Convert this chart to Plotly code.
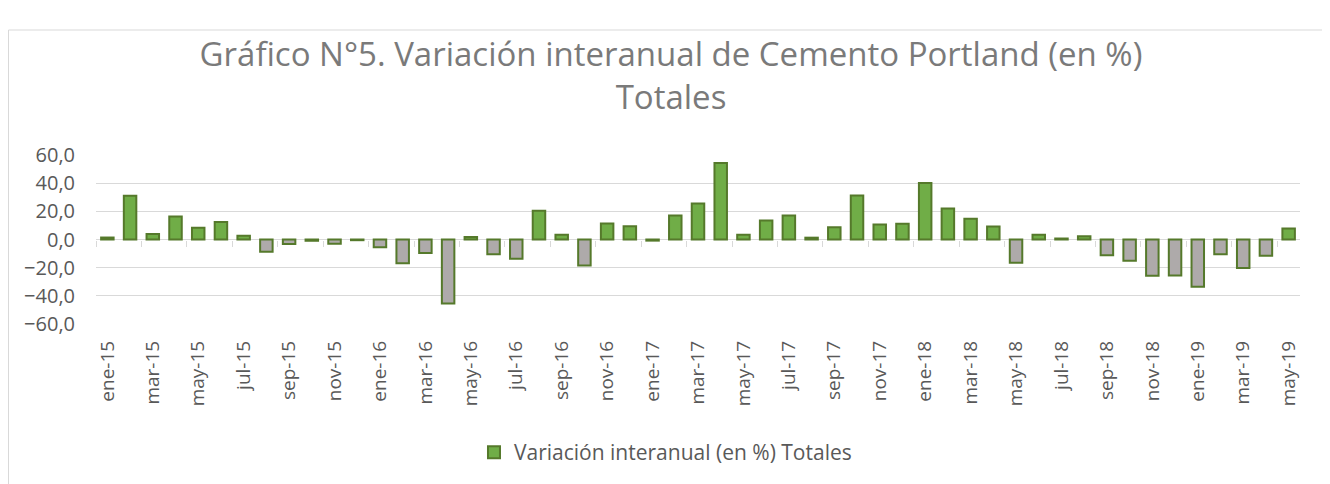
import plotly.graph_objects as go

meses = ["ene", "feb", "mar", "abr", "may", "jun", "jul", "ago", "sep", "oct", "nov", "dic"]
categorias = [f"{m}-{a}" for a in ["15", "16", "17", "18"] for m in meses] + \
             [f"{m}-19" for m in meses[:5]]

valores = [1.4, 31.0, 3.9, 16.4, 8.3, 12.4, 2.7, -8.7, -3.2, -0.9, -3.0, -0.5,
           -5.5, -16.9, -9.6, -45.5, 1.7, -10.5, -13.6, 20.4, 3.3, -18.4, 11.3, 9.4,
           -0.8, 17.0, 25.6, 54.4, 3.3, 13.5, 17.0, 1.3, 8.7, 31.3, 10.6, 11.1,
           40.1, 22.0, 14.7, 9.2, -16.5, 3.3, 0.7, 2.3, -11.2, -15.0, -25.7, -25.5,
           -33.5, -10.5, -20.3, -11.5, 7.8]

serie = "Variación interanual (en %) Totales"
titulo = "Gráfico N°5. Variación interanual de Cemento Portland (en %)<br>Totales"

VERDE = "#70AD47"
GRIS = "#AEAAAA"
BORDE = "#55792B"
TEXTO = "#595959"
LINEA = "#D9D9D9"
FUENTE = "Open Sans"

colores = [VERDE if v >= 0 else GRIS for v in valores]
posiciones = list(range(len(categorias)))

fig = go.Figure()
fig.add_trace(go.Bar(
    x=categorias, y=valores, name=serie,
    marker=dict(color=colores, line=dict(color=BORDE, width=2)),
    showlegend=True,
))
# invisible copy on a helper axis that only carries the tick marks at the zero line
fig.add_trace(go.Bar(
    x=posiciones, y=valores, xaxis="x2", showlegend=False, hoverinfo="skip",
    marker=dict(color="rgba(0,0,0,0)", line=dict(width=0)),
))

# the page body adds an 8px offset; figure coords = screen coords - 8
OFF = 8
W, H = 1330 - OFF, 484 - OFF
L, T = 96 - OFF, 155 - OFF
PR, PB = 1300 - OFF, 324 - OFF
R, B = W - PR, H - PB
pw, ph = PR - L, PB - T

def px_x(p):
    return (p - OFF - L) / pw

def px_y(p):
    return (PB - (p - OFF)) / ph

fig.add_shape(type="rect", xref="paper", yref="paper",
              x0=px_x(8.5), x1=px_x(1327), y0=px_y(500), y1=px_y(30),
              line=dict(color=LINEA, width=1), fillcolor="rgba(0,0,0,0)", layer="below")

fig.update_layout(
    width=W, height=H,
    margin=dict(l=L, r=R, t=T, b=B, autoexpand=False),
    paper_bgcolor="white", plot_bgcolor="white",
    separators=",.",
    font=dict(family=FUENTE, color=TEXTO),
    title=dict(text=titulo, x=(671 - OFF) / W, xref="container", xanchor="center",
               y=1 - (66 - OFF) / H, yanchor="top",
               font=dict(family=FUENTE, size=33, color="#7A7A7A")),
    bargap=0.45,
    showlegend=True,
    legend=dict(orientation="h", x=0.473, xanchor="center", y=px_y(432), yanchor="top",
                font=dict(family=FUENTE, size=21, color=TEXTO)),
    xaxis=dict(type="category", tickmode="array",
               tickvals=categorias[::2], ticktext=categorias[::2],
               tickangle=-90, ticks="", ticklabelstandoff=12,
               showgrid=False, showline=False,
               tickfont=dict(family=FUENTE, size=19, color=TEXTO)),
    xaxis2=dict(overlaying="x", anchor="free", position=0.5, side="bottom",
                range=[-0.5, len(categorias) - 0.5], tickmode="array",
                tickvals=[i - 0.5 for i in posiciones[::2]],
                ticks="outside", ticklen=6, tickcolor=LINEA, tickwidth=1,
                showticklabels=False, showgrid=False, showline=False, zeroline=False),
    yaxis=dict(range=[-60, 60], dtick=20, tickformat=".1f",
               showgrid=True, gridcolor=LINEA, gridwidth=1,
               zeroline=True, zerolinecolor=LINEA, zerolinewidth=1,
               showline=False, ticks="", ticklabelstandoff=20,
               tickfont=dict(family=FUENTE, size=20, color=TEXTO)),
)

fig.write_html("out.html")
